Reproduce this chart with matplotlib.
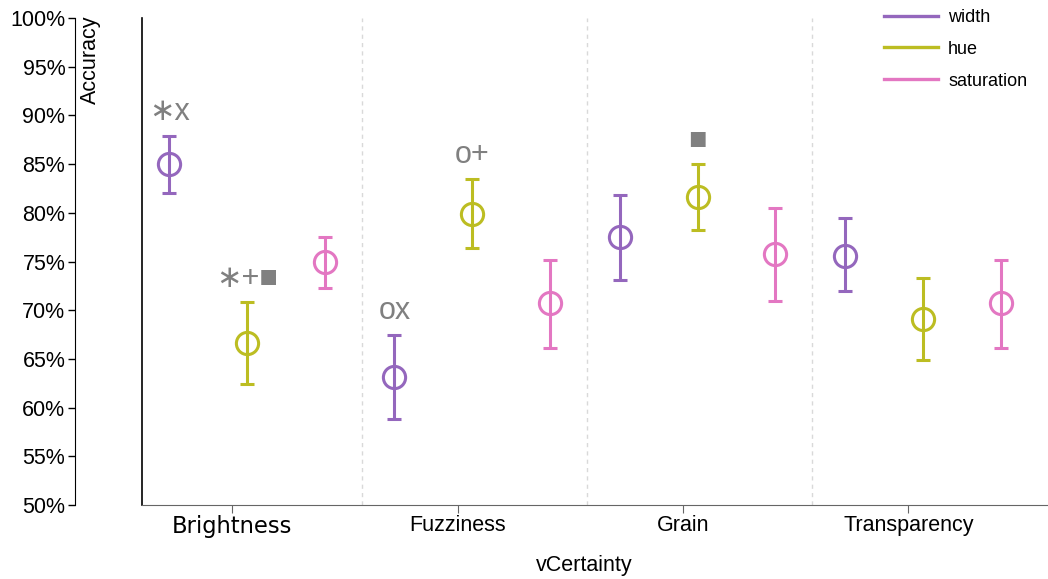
import matplotlib
matplotlib.use("Agg")
import matplotlib.pyplot as plt
from matplotlib.ticker import PercentFormatter, FixedLocator

plt.rcParams["font.family"] = ["Liberation Sans", "DejaVu Sans"]

categories = ["Brightness", "Fuzziness", "Grain", "Transparency"]
series = ["width", "hue", "saturation"]
colors = ["#9467bd", "#bcbd22", "#e377c2"]

# mean accuracy (%) and 95% CI per series, one value per category
width_mean = [85.0, 63.1, 77.5, 75.6]
width_lo = [82.0, 58.8, 73.1, 72.0]
width_hi = [87.9, 67.5, 81.8, 79.5]

hue_mean = [66.6, 79.9, 81.6, 69.1]
hue_lo = [62.4, 76.4, 78.2, 64.9]
hue_hi = [70.8, 83.5, 85.0, 73.3]

sat_mean = [74.9, 70.7, 75.8, 70.7]
sat_lo = [72.3, 66.1, 70.9, 66.1]
sat_hi = [77.5, 75.2, 80.5, 75.2]

# significance marks drawn above each point ('' = none)
width_marks = ["\u2217x", "ox", "", ""]
hue_marks = ["\u2217+\u25a0", "o+", "\u25a0", ""]
sat_marks = ["", "", "", ""]

y_ticks = [50, 55, 60, 65, 70, 75, 80, 85, 90, 95, 100]

means = [width_mean, hue_mean, sat_mean]
los = [width_lo, hue_lo, sat_lo]
his = [width_hi, hue_hi, sat_hi]
marks = [width_marks, hue_marks, sat_marks]
offsets = [-0.28, 0.065, 0.41]

W, H = 1048, 579
fig = plt.figure(figsize=(W / 100, H / 100), dpi=100)
ax = fig.add_axes([142 / W, (H - 505) / H, (W - 142) / W, (505 - 18) / H])

for s, name in enumerate(series):
    xs = [i + offsets[s] for i in range(len(categories))]
    m = means[s]
    err = [[a - b for a, b in zip(m, los[s])], [b - a for a, b in zip(m, his[s])]]
    ax.errorbar(xs, m, yerr=err, fmt="o", color=colors[s], mfc="none",
                mec=colors[s], ms=16, mew=2.2, elinewidth=2.2, capsize=4.8,
                capthick=2.2, zorder=3)
    for x, top, txt in zip(xs, his[s], marks[s]):
        if txt:
            ax.text(x, top + 2.4, txt, ha="center", va="center", fontsize=22,
                    color="#808080", family=["Liberation Sans", "DejaVu Sans"])
    ax.plot([], [], color=colors[s], lw=2.4, label=name)

for i in range(len(categories) - 1):
    ax.axvline(i + 0.575, color="#d9d9d9", lw=1, ls=(0, (3, 3)), zorder=1)

ax.set_xlim(-0.40, 3.62)
ax.set_ylim(50, 100)

ax.set_xticks(range(len(categories)))
ax.set_xticklabels(categories, fontsize=15.5)
ax.get_xticklabels()[0].set_family("DejaVu Sans")
ax.get_xticklabels()[0].set_fontsize(16.3)
ax.tick_params(axis="x", length=6, color="#666666", pad=1.5)

ax.yaxis.set_major_locator(FixedLocator(y_ticks))
ax.yaxis.set_major_formatter(PercentFormatter(decimals=0))
ax.tick_params(axis="y", labelsize=15.5, length=5, width=1, pad=2)
ax.spines["left"].set_position(("outward", 67 * 0.72))
ax.spines["top"].set_visible(False)
ax.spines["right"].set_visible(False)
ax.spines["bottom"].set_color("#666666")
ax.axvline(-0.40, color="black", lw=1.2, clip_on=False)

fig.text(90 / W, 1 - 16 / H, "Accuracy", rotation=90, ha="center", va="top",
         fontsize=15.5)
fig.text(584 / W, 1 - 565 / H, "vCertainty", ha="center", va="center",
         fontsize=15.5)

fig.legend(loc="upper left", bbox_to_anchor=(884 / W, 1 - 9 / H),
           frameon=False, fontsize=13, handlelength=3.0, handletextpad=0.55,
           labelspacing=0.82, borderpad=0, borderaxespad=0)

fig.savefig("out.png", dpi=100)
